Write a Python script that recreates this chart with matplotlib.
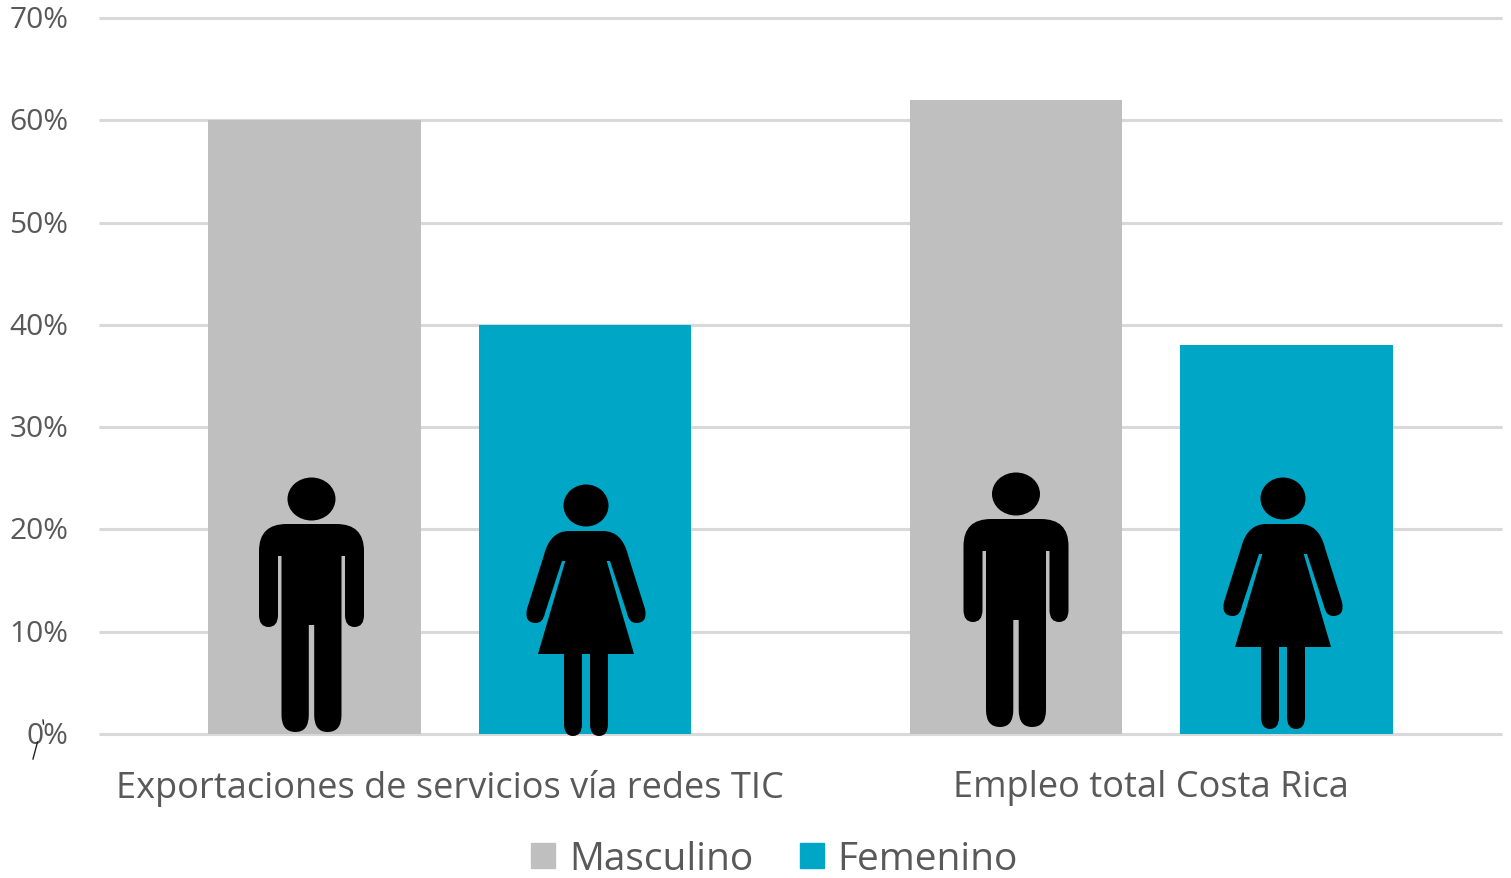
import numpy as np
import matplotlib
matplotlib.use("Agg")
import matplotlib.pyplot as plt
from matplotlib.lines import Line2D
from matplotlib.patches import Ellipse, PathPatch, Patch
from matplotlib.path import Path
from matplotlib.transforms import Affine2D

categories = ["Exportaciones de servicios vía redes TIC", "Empleo total Costa Rica"]
masculino = [60, 62]
femenino = [40, 38]
y_ticks = [0, 10, 20, 30, 40, 50, 60, 70]
y_labels = ["0%", "10%", "20%", "30%", "40%", "50%", "60%", "70%"]

GRIS = "#BFBFBF"
AZUL = "#00A6C6"
TEXTO = "#595959"
W, H = 1511, 879

M, L, C = Path.MOVETO, Path.LINETO, Path.CURVE3

# media silueta, en pixeles desde los pies
hombre = [(M, -0.5, 207), (L, 25, 207), (C, 52.5, 207), (C, 52.5, 180), (L, 52.5, 116),
          (C, 52.5, 104), (C, 43, 104), (C, 33.5, 104), (C, 33.5, 116), (L, 33.5, 175),
          (L, 30, 175), (L, 30, 16), (C, 30, -1), (C, 16, -1), (C, 2.7, -1), (C, 2.7, 16),
          (L, 2.7, 106), (L, -0.5, 106)]
mujer = [(M, -0.5, 204), (L, 17, 204), (C, 36, 204), (C, 42, 180), (L, 59, 126),
         (C, 62, 112), (C, 50, 112), (C, 43, 112), (C, 41, 122), (L, 24, 174),
         (L, 20.7, 174), (L, 48, 81), (L, 22, 81), (L, 22, 11), (C, 22, -1), (C, 13, -1),
         (C, 4, -1), (C, 4, 11), (L, 4, 81), (L, -0.5, 81)]


def persona(ax, x_pix, y_pix, mitad, cabeza_y, rx, ry):
    # x_pix, y_pix: centro y pies en pixeles de la imagen
    base = Affine2D().translate(x_pix, H - y_pix)
    codes = [p[0] for p in mitad] + [Path.CLOSEPOLY]
    verts = [(p[1], p[2]) for p in mitad] + [(mitad[0][1], mitad[0][2])]
    camino = Path(verts, codes)
    for lado in (1, -1):
        t = Affine2D().scale(lado, 1) + base
        ax.add_artist(PathPatch(camino, fc="black", ec="none", transform=t, clip_on=False, zorder=5))
    ax.add_artist(Ellipse((0, cabeza_y), 2 * rx, 2 * ry, fc="black", ec="none",
                          transform=base, clip_on=False, zorder=5))


fig = plt.figure(figsize=(W / 100, H / 100), dpi=100)
plt.rcParams["font.family"] = ["Open Sans", "DejaVu Sans"]
ax = fig.add_axes([99 / W, 1 - 735 / H, (1502 - 99) / W, (735 - 19) / H])

x = np.arange(len(categories))
ancho = 0.303
sep = 0.1925
ax.bar(x - sep, masculino, ancho, color=GRIS, zorder=3, label="Masculino")
ax.bar(x + sep, femenino, ancho, color=AZUL, zorder=3, label="Femenino")

ax.set_xlim(-0.5, 1.5)
ax.set_ylim(0, 70)
ax.set_yticks(y_ticks)
ax.set_yticklabels(y_labels, fontsize=21.5, color=TEXTO, family=["Open Sans", "DejaVu Sans"])
ax.set_xticks(x)
ax.set_xticklabels(categories, fontsize=26, color=TEXTO, family=["Open Sans", "DejaVu Sans"])
ax.tick_params(axis="y", length=0, pad=22)
ax.tick_params(axis="x", length=0, pad=25.5)
ax.grid(axis="y", color="#D9D9D9", linewidth=2.2, zorder=0, solid_capstyle="butt")
ax.set_axisbelow(True)
for s in ax.spines.values():
    s.set_visible(False)
for t in ax.get_ygridlines():
    t.set_clip_on(False)
# subir un poco las etiquetas del eje y
for lab in ax.get_yticklabels():
    lab.set_transform(lab.get_transform() + Affine2D().translate(0, 2))

persona(ax, 311.5, 732, hombre, 232, 24, 21.5)
persona(ax, 586, 736, mujer, 229.5, 22.5, 21)
persona(ax, 1016, 727, hombre, 232, 24, 21.5)
persona(ax, 1283, 729, mujer, 229.5, 22.5, 21)

# rayita suelta junto al 0%
pix = Affine2D().scale(1, -1).translate(0, H)
fig.add_artist(Line2D([43, 43.5], [721, 725], color="#222222", lw=1, transform=pix))
fig.add_artist(Line2D([37.5, 33], [743, 760], color="#222222", lw=1, transform=pix))

handles = [Patch(color=GRIS, label="Masculino"), Patch(color=AZUL, label="Femenino")]
fig.legend(handles=handles, loc="center", bbox_to_anchor=(774.5 / W, 1 - 860 / H), ncol=2,
           frameon=False, labelcolor=TEXTO, handlelength=0.62, handleheight=0.62,
           handletextpad=0.35, columnspacing=1.2, prop={"family": "Open Sans", "size": 28})

fig.savefig("out.png", dpi=100)
